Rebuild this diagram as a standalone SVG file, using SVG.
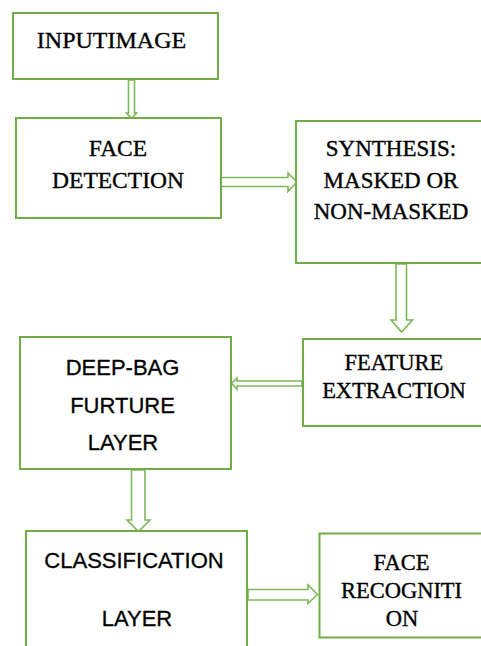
<svg xmlns="http://www.w3.org/2000/svg" width="481" height="646" viewBox="0 0 481 646">
<style>
.box{fill:#fff;stroke:#70AD47;stroke-width:2}
.arr{fill:#fff;stroke:#7DB85A;stroke-width:1.6;stroke-linejoin:miter}
.s{font-family:"Liberation Serif","Times New Roman",serif;fill:#000;stroke:#000;stroke-width:0.35;text-anchor:middle}
.a{font-family:"Liberation Sans",Arial,sans-serif;fill:#000;stroke:#000;stroke-width:0.3;text-anchor:middle;font-size:22px}
</style>
<rect width="481" height="646" fill="#fff"/>
<g id="connectors">
<path class="arr" d="M128.5,80 V113 H126.5 L131.5,118.5 L136.5,113 H134.5 V80 Z"/>
<path class="arr" d="M220,177.5 H288 V173 L297,182 L288,191.5 V186.5 H220 Z"/>
<path class="arr" d="M396,264 V320 H391 L401.5,332 L412.5,320 H406.5 V264 Z"/>
<path class="arr" d="M302,381 H237 V378 L231.5,383.5 L237,389 V386 H302 Z"/>
<path class="arr" d="M131.5,470 V520 H127 L138.5,531.5 L150,520 H145 V470 Z"/>
<path class="arr" d="M248,589.5 H308 V585 L317.5,594.5 L308,603.5 V600 H248 Z"/>
</g>
<g id="input-image">
<rect class="box" x="13" y="13" width="205" height="66"/>
<text class="s" x="111.5" y="48" font-size="24">INPUTIMAGE</text>
</g>
<g id="face-detection">
<rect class="box" x="16" y="118" width="205" height="100"/>
<text class="s" x="118" y="156" font-size="23.5">FACE</text>
<text class="s" x="118" y="188" font-size="23.5">DETECTION</text>
</g>
<g id="synthesis">
<rect class="box" x="296" y="121" width="200" height="142"/>
<text class="s" x="391" y="156" font-size="23">SYNTHESIS:</text>
<text class="s" x="391" y="187.5" font-size="23">MASKED OR</text>
<text class="s" x="391" y="218.5" font-size="23">NON-MASKED</text>
</g>
<g id="feature-extraction">
<rect class="box" x="303" y="339" width="200" height="87"/>
<text class="s" x="394" y="370" font-size="22.5">FEATURE</text>
<text class="s" x="394" y="398" font-size="22.5">EXTRACTION</text>
</g>
<g id="deep-bag">
<rect class="box" x="20" y="337" width="211" height="132"/>
<text class="a" x="122.5" y="375">DEEP-BAG</text>
<text class="a" x="122.5" y="413">FURTURE</text>
<text class="a" x="123" y="450">LAYER</text>
</g>
<g id="classification">
<rect class="box" x="26" y="531" width="221" height="130"/>
<text class="a" x="134" y="568">CLASSIFICATION</text>
<text class="a" x="137" y="626">LAYER</text>
</g>
<g id="face-recognition">
<rect class="box" x="319.5" y="533.5" width="200" height="104"/>
<text class="s" x="401.5" y="570" font-size="22.5">FACE</text>
<text class="s" x="401.5" y="598" font-size="22.5">RECOGNITI</text>
<text class="s" x="402" y="626" font-size="22.5">ON</text>
</g>
</svg>
